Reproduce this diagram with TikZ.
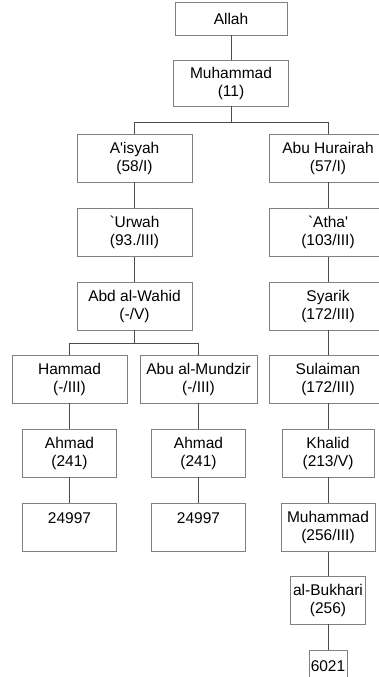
\documentclass[tikz,border=0pt]{standalone}
\usepackage{fontspec}
\setmainfont{Liberation Sans}

\begin{document}
\begin{tikzpicture}[x=1pt,y=-1pt,
  rawi/.style={draw=black!50, line width=0.9pt, align=center, inner sep=0pt,
    minimum height=48, font=\fontsize{15.5}{18}\selectfont},
  sanad/.style={draw=black!70, line width=0.9pt}]

\useasboundingbox (0,0) rectangle (379,677);
\clip (0,0) rectangle (379,677);

% top of the chain
\node[rawi, minimum width=112, minimum height=33] (allah) at (231,18.5) {Allah};
\node[rawi, minimum width=115, minimum height=46] (nabi) at (231,83) {Muhammad\\(11)};

% left branch
\node[rawi, minimum width=115] (aisyah) at (134.5,158) {A\textquotesingle isyah\\(58/I)};
\node[rawi, minimum width=115] (urwah) at (134.5,232.5) {\textasciigrave Urwah\\(93./III)};
\node[rawi, minimum width=115] (wahid) at (134.5,306) {Abd al-Wahid\\(-/V)};
\node[rawi, minimum width=115] (hammad) at (69.5,379) {Hammad\\(-/III)};
\node[rawi, minimum width=117] (mundzir) at (198.5,379) {Abu al-Mundzir\\(-/III)};
\node[rawi, minimum width=94] (ahmadA) at (69.5,453) {Ahmad\\(241)};
\node[rawi, minimum width=94] (ahmadB) at (198.5,453) {Ahmad\\(241)};
\node[rawi, minimum width=94] (noA) at (69.5,527.5) {24997\\~};
\node[rawi, minimum width=94] (noB) at (198.5,527.5) {24997\\~};

% right branch
\node[rawi, minimum width=118] (hurairah) at (328,158) {Abu Hurairah\\(57/I)};
\node[rawi, minimum width=118] (atha) at (328,232.5) {\textasciigrave Atha\textquotesingle\\(103/III)};
\node[rawi, minimum width=118] (syarik) at (328,306) {Syarik\\(172/III)};
\node[rawi, minimum width=118] (sulaiman) at (328,379) {Sulaiman\\(172/III)};
\node[rawi, minimum width=92] (khalid) at (328,453) {Khalid\\(213/V)};
\node[rawi, minimum width=94] (muhB) at (328,527.5) {Muhammad\\(256/III)};
\node[rawi, minimum width=75] (bukhari) at (328,600) {al-Bukhari\\(256)};
\node[rawi, minimum width=38, minimum height=33] (noC) at (328,666.5) {6021};

\draw[sanad] (allah) -- (nabi);
\draw[sanad] (nabi.south) -- ++(0,16) -| (aisyah.north);
\draw[sanad] (nabi.south) -- ++(0,16) -| (hurairah.north);

\draw[sanad] (aisyah) -- (urwah);
\draw[sanad] (urwah) -- (wahid);
\draw[sanad] (wahid.south) -- ++(0,13) -| (hammad.north);
\draw[sanad] (wahid.south) -- ++(0,13) -| (mundzir.north);
\draw[sanad] (hammad) -- (ahmadA);
\draw[sanad] (mundzir) -- (ahmadB);
\draw[sanad] (ahmadA) -- (noA);
\draw[sanad] (ahmadB) -- (noB);

\draw[sanad] (hurairah) -- (atha);
\draw[sanad] (atha) -- (syarik);
\draw[sanad] (syarik) -- (sulaiman);
\draw[sanad] (sulaiman) -- (khalid);
\draw[sanad] (khalid) -- (muhB);
\draw[sanad] (muhB) -- (bukhari);
\draw[sanad] (bukhari) -- (noC);

\end{tikzpicture}
\end{document}
